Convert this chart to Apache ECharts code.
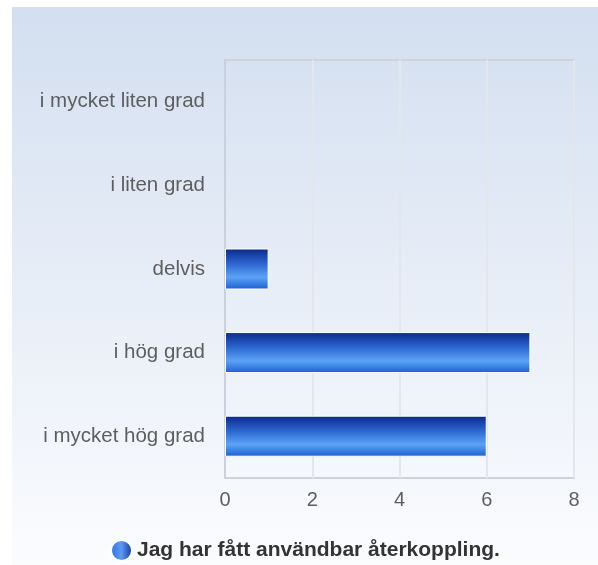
<!DOCTYPE html>
<html><head><meta charset="utf-8">
<script src="https://cdn.jsdelivr.net/npm/echarts@6/dist/echarts.min.js"></script>
<style>html,body{margin:0;padding:0;background:#fff}#c{width:598px;height:565px}</style>
</head><body><div id="c"></div>
<script>
const categories = ["i mycket liten grad", "i liten grad", "delvis", "i hög grad", "i mycket hög grad"];
const values = [0, 0, 1, 7, 6];
const seriesName = "Jag har fått användbar återkoppling.";
const xTicks = [0, 2, 4, 6, 8];

const chart = echarts.init(document.getElementById('c'));
const font = "'Liberation Sans', Arial, sans-serif";
chart.setOption({
  animation: false,
  graphic: [{
    type: 'rect', z: -10, silent: true,
    shape: { x: 12, y: 7, width: 586, height: 558 },
    style: { fill: new echarts.graphic.LinearGradient(0, 0, 0, 1, [
      { offset: 0, color: '#d3dff0' }, { offset: 1, color: '#fbfcfe' }]) }
  }],
  grid: { left: 225, right: 24, top: 60, bottom: 87, show: true, borderColor: '#cfd3d9', borderWidth: 2, backgroundColor: 'transparent' },
  legend: {
    top: 539, left: 110, padding: 0, icon: 'circle', itemWidth: 21, itemHeight: 21, itemGap: 6,
    textStyle: { fontFamily: font, fontSize: 21, fontWeight: 'bold', color: '#333' },
    data: [{ name: seriesName, itemStyle: { color: new echarts.graphic.LinearGradient(0, 0, 1, 0, [
      { offset: 0, color: '#2f6fe0' }, { offset: 0.5, color: '#5a9af2' }, { offset: 1, color: '#0c2f8f' }]) } }]
  },
  xAxis: {
    type: 'value', min: xTicks[0], max: xTicks[xTicks.length - 1], interval: 2,
    axisLine: { show: false }, axisTick: { show: false },
    splitLine: { show: true, lineStyle: { color: '#e3e6ea', width: 2 } },
    axisLabel: { fontFamily: font, fontSize: 20, color: '#5e5e5e', margin: 12 }
  },
  yAxis: {
    type: 'category', data: categories, inverse: true,
    axisLine: { show: true, lineStyle: { color: '#c9d1de', width: 2 } },
    axisTick: { show: false },
    axisLabel: { fontFamily: font, fontSize: 20.5, color: '#5e5e5e', margin: 20 }
  },
  series: [{
    name: seriesName, type: 'bar', barWidth: 41,
    data: values.map(v => ({ value: v, itemStyle: v === 0 ? { borderWidth: 0 } : {} })),
    itemStyle: {
      borderColor: '#ffffff', borderWidth: 1,
      color: new echarts.graphic.LinearGradient(0, 0, 0, 1, [
        { offset: 0, color: '#0a2888' }, { offset: 0.35, color: '#2a62cc' },
        { offset: 0.7, color: '#5ba3f7' }, { offset: 1, color: '#1b5ed0' }])
    }
  }]
});
</script></body></html>
